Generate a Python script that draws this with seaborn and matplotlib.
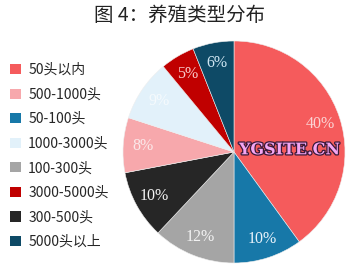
import matplotlib
matplotlib.use("Agg")
import matplotlib.pyplot as plt
import matplotlib.patheffects as pe
from matplotlib.patches import Patch
import seaborn as sns

categories = ["50头以内", "50-100头", "100-300头", "300-500头",
              "500-1000头", "1000-3000头", "3000-5000头", "5000头以上"]
values = [40, 10, 12, 10, 8, 9, 5, 6]
colors = ["#F55B5C", "#1778A8", "#A5A5A5", "#262626",
          "#F7A8AC", "#E2F1FA", "#C00000", "#0E4A66"]
label_colors = ["#FBD3D3", "#E8F2FA", "#F2F2F2", "#F2F2F2",
                "#FBE8E9", "#F5FAFD", "#F7C9C9", "#CFE6F2"]
legend_order = [0, 4, 1, 5, 2, 6, 3, 7]
title = "图 4：养殖类型分布"

sns.set_style("white")
plt.rcParams['font.family'] = ['Noto Sans CJK SC', 'DejaVu Sans']

fig = plt.figure(figsize=(3.59, 2.73), dpi=100)
ax = fig.add_axes([(234 - 111) / 359, (273 - 152 - 111) / 273, 222 / 359, 222 / 273])

wedges, texts, autotexts = ax.pie(
    values, colors=colors, startangle=90, counterclock=False,
    autopct=lambda p: f"{p:.0f}%", pctdistance=0.82,
    wedgeprops=dict(edgecolor="#EEEEEE", linewidth=0.4),
    textprops=dict(fontsize=11.5, family="Liberation Serif"))
for t, c in zip(autotexts, label_colors):
    t.set_color(c)
ax.set_xlim(-1, 1)
ax.set_ylim(-1, 1)
ax.set_aspect("equal")

ax.text(0.50, 0.02, "YGSITE.CN", fontsize=11.5, fontweight="bold",
        family="DejaVu Serif", color="#F4A6F2", ha="center", va="center",
        path_effects=[pe.withStroke(linewidth=1.8, foreground="#3A1A3A")])

handles = [Patch(facecolor=colors[i], edgecolor="none") for i in legend_order]
labels = [categories[i] for i in legend_order]
fig.legend(handles, labels, loc="upper left", bbox_to_anchor=(0.005, 0.80),
           frameon=False, fontsize=10, handlelength=0.75, handleheight=0.75,
           handletextpad=0.55, labelspacing=0.76, borderaxespad=0.2)

fig.text(0.5, 0.945, title, ha="center", va="center", fontsize=14, color="#222222")

fig.savefig("out.png", dpi=100)
